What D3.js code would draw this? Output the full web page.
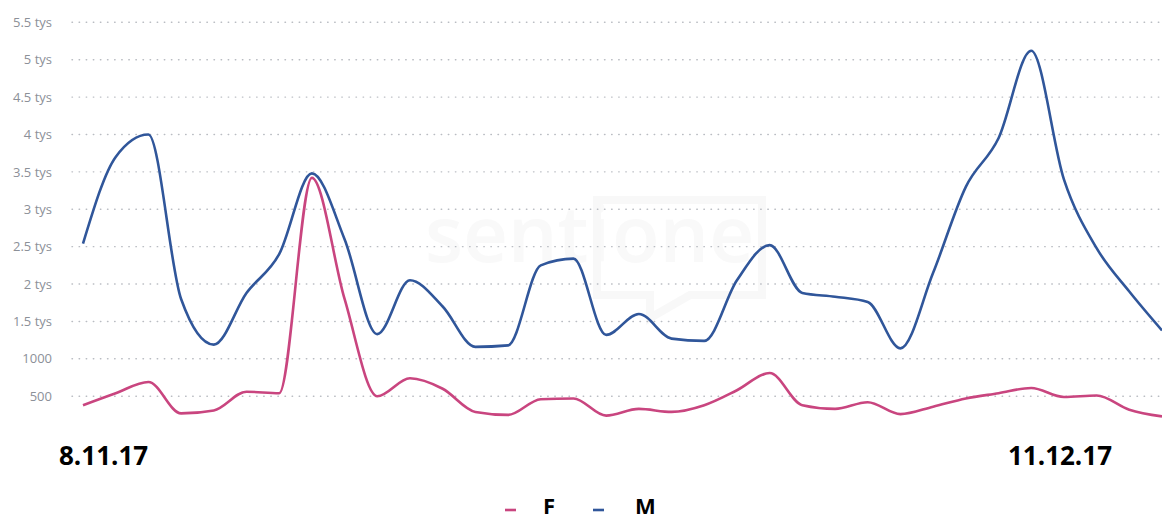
<!DOCTYPE html>
<html>
<head>
<meta charset="utf-8">
<script src="https://cdn.jsdelivr.net/npm/d3@7"></script>
<style>
  html, body { margin: 0; padding: 0; background: #fff; }
  svg { display: block; }
</style>
</head>
<body>
<div id="chart"></div>
<script>
// one point per day, 8.11.2017 .. 11.12.2017
const startDay = new Date(2017, 10, 8);
const days = d3.range(34).map(i => d3.timeDay.offset(startDay, i));

const maleValues = [
  2540, 3700, 4000, 1800, 1190, 1880, 2400, 3480, 2600, 1330,
  2050, 1700, 1160, 1180, 2250, 2340, 1320, 1600, 1270, 1240,
  2050, 2520, 1880, 1830, 1760, 1140, 2150, 3300, 3950, 5120,
  3400, 2480, 1900, 1380
];
const femaleValues = [
  380, 540, 690, 270, 310, 560, 540, 3420, 1800, 500,
  740, 600, 290, 250, 460, 470, 240, 330, 290, 380,
  580, 810, 380, 330, 420, 260, 360, 470, 540, 610,
  490, 510, 320, 230
];
const yTicks = [500, 1000, 1500, 2000, 2500, 3000, 3500, 4000, 4500, 5000, 5500];
const dateLabels = ['8.11.17', '11.12.17'];
const legendNames = ['F', 'M'];
const colors = { F: '#c9457f', M: '#30569a' };

const width = 1162, height = 522;

const svg = d3.select('#chart').append('svg')
  .attr('width', width)
  .attr('height', height);

const x = d3.scaleTime()
  .domain(d3.extent(days))
  .range([83, 1162]);

const y = d3.scaleLinear()
  .domain([0, 5500])
  .range([433.6, 22.3]);

// faint watermark
const wm = svg.append('g').attr('opacity', 0.45);
wm.append('text')
  .attr('x', 425).attr('y', 262)
  .style('font-family', 'Open Sans, sans-serif')
  .style('font-size', '78px')
  .style('font-weight', 600)
  .style('fill', '#f2f2f2')
  .text('senti');
wm.append('path')
  .attr('d', 'M597,200 H762 V295 H690 L650,318 V295 H597 Z')
  .attr('fill', 'none')
  .attr('stroke', '#f0f0f0')
  .attr('stroke-width', 8);
wm.append('text')
  .attr('x', 612).attr('y', 262)
  .style('font-family', 'Open Sans, sans-serif')
  .style('font-size', '78px')
  .style('font-weight', 600)
  .style('fill', '#f2f2f2')
  .text('one');

// grid
svg.append('g')
  .selectAll('line')
  .data(yTicks)
  .enter()
  .append('line')
  .attr('x1', 72)
  .attr('x2', width)
  .attr('y1', d => y(d))
  .attr('y2', d => y(d))
  .attr('stroke', '#b9bcc2')
  .attr('stroke-width', 1.4)
  .attr('stroke-linecap', 'round')
  .attr('stroke-dasharray', '0.5,6.6');

// y axis labels
const yAxis = d3.axisLeft(y)
  .tickValues(yTicks)
  .tickSize(0)
  .tickPadding(20)
  .tickFormat(d => d >= 1500 ? (d / 1000) + ' tys' : String(d));

const yg = svg.append('g')
  .attr('transform', 'translate(72,0)')
  .call(yAxis);
yg.select('.domain').remove();
yg.selectAll('text')
  .style('font-family', 'Open Sans, sans-serif')
  .style('font-size', '13px')
  .style('fill', '#8c9098');

// lines
const line = d3.line()
  .x((d, i) => x(days[i]))
  .y(d => y(d))
  .curve(d3.curveMonotoneX);

[['M', maleValues], ['F', femaleValues]].forEach(([key, values]) => {
  svg.append('path')
    .datum(values)
    .attr('d', line)
    .attr('fill', 'none')
    .attr('stroke', colors[key])
    .attr('stroke-width', 2.6)
    .attr('stroke-linejoin', 'round');
});

// date labels
svg.append('text')
  .attr('x', 59).attr('y', 465)
  .style('font-family', 'Open Sans, sans-serif')
  .style('font-weight', 700)
  .style('font-size', '26px')
  .style('fill', '#000')
  .text(dateLabels[0]);

svg.append('text')
  .attr('x', 1060).attr('y', 465)
  .attr('text-anchor', 'middle')
  .style('font-family', 'Open Sans, sans-serif')
  .style('font-weight', 700)
  .style('font-size', '26px')
  .style('fill', '#000')
  .text(dateLabels[1]);

// legend
const legend = svg.append('g')
  .selectAll('g')
  .data(legendNames)
  .enter()
  .append('g')
  .attr('transform', (d, i) => `translate(${505 + i * 88},0)`);

legend.append('line')
  .attr('x1', 0).attr('x2', 11)
  .attr('y1', 510).attr('y2', 510)
  .attr('stroke', d => colors[d])
  .attr('stroke-width', 2.6);

legend.append('text')
  .attr('x', (d, i) => i === 0 ? 38 : 42)
  .attr('y', 514)
  .style('font-family', 'Open Sans, sans-serif')
  .style('font-weight', 700)
  .style('font-size', '22px')
  .style('fill', '#000')
  .text(d => d);
</script>
</body>
</html>
